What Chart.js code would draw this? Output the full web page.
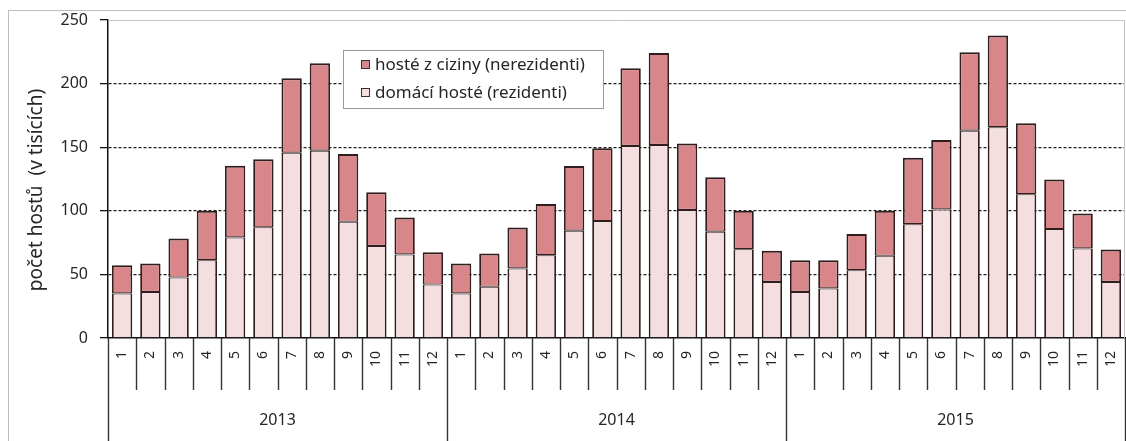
<!DOCTYPE html>
<html><head><meta charset="utf-8">
<script src="https://cdn.jsdelivr.net/npm/chart.js@4.4.1/dist/chart.umd.min.js"></script>
<style>html,body{margin:0;padding:0;background:#fff}#wrap{width:1126px;height:441px;position:relative}</style>
</head><body><div id="wrap"><canvas id="c"></canvas></div>
<script>
const years = ['2013', '2014', '2015'];
const months = ['1','2','3','4','5','6','7','8','9','10','11','12'];
const domestic2013 = [35.0, 36.2, 47.5, 61.2, 79.0, 87.0, 145.7, 147.2, 91.3, 72.4, 65.7, 42.0];
const foreign2013  = [22.2, 22.4, 30.8, 38.8, 56.4, 53.5, 58.5, 68.8, 53.3, 42.1, 29.1, 25.5];
const domestic2014 = [35.0, 40.2, 54.6, 65.1, 84.3, 91.9, 151.0, 151.7, 100.6, 83.5, 69.8, 44.1];
const foreign2014  = [23.6, 26.2, 32.3, 40.2, 50.9, 57.2, 61.1, 72.3, 52.4, 42.8, 30.2, 24.4];
const domestic2015 = [36.2, 38.9, 53.3, 64.6, 89.5, 101.1, 163.0, 165.7, 113.1, 85.6, 70.4, 44.1];
const foreign2015  = [25.0, 22.3, 28.4, 35.4, 52.2, 54.6, 61.7, 72.1, 55.7, 39.1, 27.5, 25.5];
const seriesForeign = 'hosté z ciziny (nerezidenti)';
const seriesDomestic = 'domácí hosté (rezidenti)';
const yTicks = [0, 50, 100, 150, 200, 250];
const yTitle = 'počet hostů  (v tisících)';

const labels = years.flatMap(() => months);
const domestic = [...domestic2013, ...domestic2014, ...domestic2015];
const foreign = [...foreign2013, ...foreign2014, ...foreign2015];

const FONT = '"Noto Sans", sans-serif';
const TXT = '#262626';
const COL_FOREIGN = '#d8868a';
const COL_DOMESTIC = '#f5dedf';
const EDGE = '#2e1e1e';

const decor = {
  id: 'decor',
  beforeDraw(chart) {
    const {ctx, width, height} = chart;
    ctx.save();
    ctx.fillStyle = '#fff';
    ctx.fillRect(0, 0, width, height);
    ctx.strokeStyle = '#bdbdbd';
    ctx.lineWidth = 1;
    ctx.strokeRect(8.5, 10.5, width - 8, height);
    ctx.restore();
  },
  beforeDatasetsDraw(chart) {
    const {ctx, chartArea: a} = chart;
    ctx.save();
    ctx.strokeStyle = '#c4c4c4';
    ctx.lineWidth = 1;
    ctx.beginPath();
    ctx.moveTo(a.left, a.top + 0.5);
    ctx.lineTo(a.right - 0.5, a.top + 0.5);
    ctx.lineTo(a.right - 0.5, a.bottom);
    ctx.stroke();
    ctx.restore();
  },
  afterDraw(chart) {
    const {ctx, chartArea: a, height} = chart;
    const xs = chart.scales.x;
    const n = labels.length;
    const step = xs.getPixelForValue(1) - xs.getPixelForValue(0);
    const bx = i => xs.getPixelForValue(0) - step / 2 + i * step;
    ctx.save();
    ctx.strokeStyle = '#333';
    ctx.lineWidth = 1.4;
    for (let i = 0; i <= n; i++) {
      const x = Math.round(bx(i)) + 0.5;
      ctx.beginPath();
      ctx.moveTo(x, a.bottom);
      ctx.lineTo(x, (i % months.length === 0) ? height : a.bottom + 52);
      ctx.stroke();
    }
    ctx.fillStyle = TXT;
    ctx.font = '16px ' + FONT;
    ctx.textAlign = 'center';
    ctx.textBaseline = 'middle';
    years.forEach((y, k) => {
      const cx = (bx(k * months.length) + bx((k + 1) * months.length)) / 2;
      ctx.fillText(y, cx, 420);
    });
    // y title
    ctx.save();
    ctx.translate(37, 190);
    ctx.rotate(-Math.PI / 2);
    ctx.font = '19px ' + FONT;
    ctx.fillText(yTitle, 0, 0);
    ctx.restore();
    // legend
    const lx = 343, ly = 50, lw = 260, lh = 58;
    ctx.fillStyle = '#fff';
    ctx.fillRect(lx, ly, lw, lh);
    ctx.strokeStyle = '#9a9a9a';
    ctx.lineWidth = 1;
    ctx.strokeRect(lx + 0.5, ly + 0.5, lw, lh);
    const items = chart.data.datasets.slice().reverse();
    items.forEach((ds, k) => {
      const cy = 65 + k * 28;
      ctx.fillStyle = ds.backgroundColor;
      ctx.fillRect(361.5, cy - 4.5, 8, 8);
      ctx.strokeStyle = '#333';
      ctx.strokeRect(361.5, cy - 4.5, 8, 8);
      ctx.fillStyle = TXT;
      ctx.font = '17px ' + FONT;
      ctx.textAlign = 'left';
      ctx.textBaseline = 'middle';
      ctx.fillText(ds.label, 375, cy);
    });
    ctx.restore();
  }
};

new Chart(document.getElementById('c'), {
  type: 'bar',
  data: {
    labels,
    datasets: [
      {label: seriesDomestic, data: domestic, backgroundColor: COL_DOMESTIC, borderColor: EDGE,
       borderWidth: {top: 1, left: 1.8, right: 1.8, bottom: 0},
       borderSkipped: false, barPercentage: 0.72, categoryPercentage: 1},
      {label: seriesForeign, data: foreign, backgroundColor: COL_FOREIGN, borderColor: EDGE,
       borderWidth: {top: 2, left: 1.8, right: 1.8, bottom: 1.2},
       borderSkipped: false, barPercentage: 0.72, categoryPercentage: 1}
    ]
  },
  options: {
    responsive: true, maintainAspectRatio: false, animation: false,
    layout: {padding: {top: 20, right: 1, left: 0, bottom: 0}},
    plugins: {legend: {display: false}, tooltip: {enabled: false}},
    scales: {
      x: {
        stacked: true,
        grid: {display: false, drawTicks: false},
        border: {display: true, color: '#111', width: 1.5},
        ticks: {autoSkip: false, minRotation: 90, maxRotation: 90, padding: 13, color: TXT,
                font: {family: FONT, size: 14}},
        afterFit(s) { s.height = 103; s.paddingLeft = 0; s.paddingRight = 0; }
      },
      y: {
        stacked: true, min: 0, max: 250,
        afterBuildTicks(s) { s.ticks = yTicks.map(v => ({value: v})); },
        grid: {
          color: c => (c.tick && c.tick.value > 0 && c.tick.value < 250) ? '#1e1e1e' : 'rgba(0,0,0,0)',
          lineWidth: 1.3, tickColor: '#111', tickLength: 8, tickWidth: 1.3
        },
        border: {display: true, color: '#111', width: 1.5, dash: [3, 2]},
        ticks: {padding: 12, color: TXT, font: {family: FONT, size: 16}},
        afterFit(s) { s.width = 108; s.paddingTop = 0; s.paddingBottom = 0; }
      }
    }
  },
  plugins: [decor]
});
</script></body></html>
